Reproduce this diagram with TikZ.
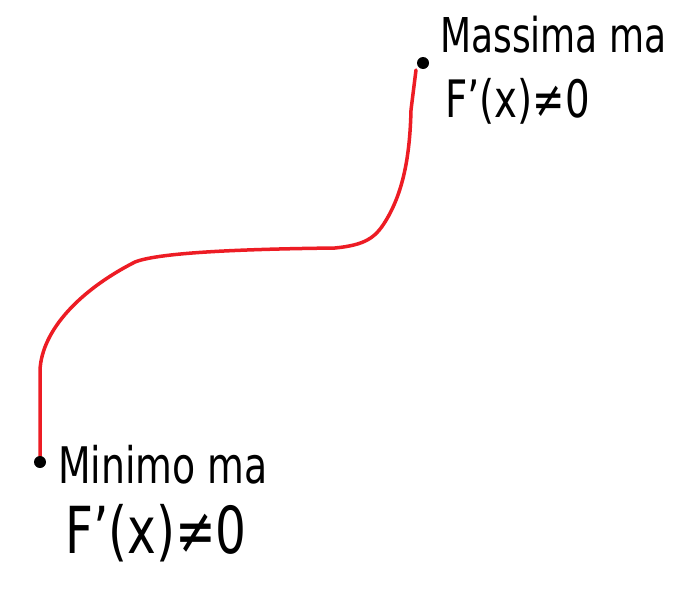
\documentclass[tikz,border=0pt]{standalone}
\usepackage{fontspec}
\setmainfont{DejaVu Sans}
\definecolor{paintred}{RGB}{237,28,36}
\begin{document}
\begin{tikzpicture}[x=1pt,y=-1pt,
  lbl/.style={anchor=base west,inner sep=0pt,font=\fontsize{40}{44}\selectfont,xscale=0.9,yscale=1.2},
  curve/.style={draw=paintred,line width=3.5pt,line join=round,line cap=round},
  dotfill/.style={fill=black}]
\useasboundingbox[fill=white] (0,0) rectangle (700,589);
\coordinate (top) at (423,63);
\coordinate (bot) at (40,462);
\draw[curve] (bot) -- (40,370) .. controls (42,330) and (80,290) .. (135,262)
  .. controls (160,252) and (250,249) .. (335,248)
  .. controls (365,245) and (375,238) .. (385,222)
  .. controls (405,190) and (410,150) .. (411,110)
  -- (416,70);
\fill[dotfill] (top) circle[radius=6pt];
\fill[dotfill] (bot) circle[radius=6pt];
\node[lbl] (t1) at (440,52) {Massima ma};
\node[lbl,font=\fontsize{43}{47}\selectfont] (t2) at (445,117) {F'(x)≠0};
\node[lbl,font=\fontsize{42}{46}\selectfont] (b1) at (58,483) {Minimo ma};
\node[lbl,font=\fontsize{54}{58}\selectfont] (b2) at (65,553) {F'(x)≠0};
\end{tikzpicture}
\end{document}
